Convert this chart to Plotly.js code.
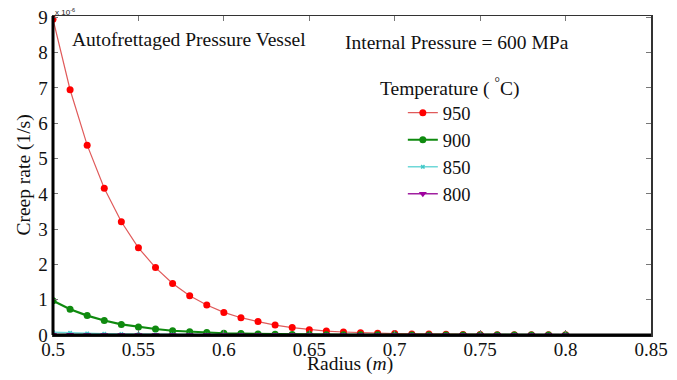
<!DOCTYPE html>
<html>
<head>
<meta charset="utf-8">
<script src="https://cdn.plot.ly/plotly-3.0.1.min.js"></script>
<style>
html,body{margin:0;padding:0;background:#fff;}
</style>
</head>
<body>
<div id="chart" style="width:677px;height:380px"></div>
<script>
const radius = [0.50,0.51,0.52,0.53,0.54,0.55,0.56,0.57,0.58,0.59,0.60,0.61,0.62,0.63,0.64,0.65,0.66,0.67,0.68,0.69,0.70,0.71,0.72,0.73,0.74,0.75,0.76,0.77,0.78,0.79,0.80];
const seriesNames = ["950","900","850","800"];
const creep950 = [8.95,6.95,5.38,4.16,3.21,2.47,1.91,1.46,1.11,0.85,0.64,0.49,0.38,0.28,0.21,0.15,0.11,0.085,0.065,0.05,0.04,0.03,0.025,0.02,0.015,0.012,0.01,0.008,0.006,0.005,0.004];
const creep900 = [0.97,0.73,0.55,0.41,0.30,0.23,0.17,0.12,0.09,0.07,0.05,0.04,0.03,0.02,0.015,0.011,0.008,0.006,0.005,0.004,0.003,0.002,0.002,0.001,0.001,0.001,0.001,0.0005,0.0005,0.0004,0.0003];
const creep850 = [0.08,0.06,0.045,0.034,0.025,0.019,0.014,0.011,0.008,0.006,0.005,0.004,0.003,0.002,0.0015,0.001,0.001,0.0008,0.0006,0.0005,0.0004,0.0003,0.0002,0.0002,0.0001,0.0001,0.0001,0.0001,0.0001,0.0001,0.0001];
const creep800 = [0.006,0.0045,0.0034,0.0025,0.0019,0.0014,0.001,0.0008,0.0006,0.0005,0.0004,0.0003,0.0002,0.0002,0.0001,0.0001,0.0001,0.0001,0.0001,0.0001,0.0001,0.0001,0.0001,0.0001,0.0001,0.0001,0.0001,0.0001,0.0001,0.0001,0.0001];
const xTicks = [0.5,0.55,0.6,0.65,0.7,0.75,0.8,0.85];
const xTickText = ["0.5","0.55","0.6","0.65","0.7","0.75","0.8","0.85"];
const yTicks = [0,1,2,3,4,5,6,7,8,9];

function tf(size) { return {family: "Times New Roman", size: size, color: "#111"}; }

const traces = [
  {x: radius, y: creep950, name: seriesNames[0], mode: "lines+markers",
   line: {color: "#e05a5a", width: 1.2}, marker: {color: "#ff0000", size: 7, symbol: "circle"}},
  {x: radius, y: creep900, name: seriesNames[1], mode: "lines+markers",
   line: {color: "#0f8a0f", width: 2.2}, marker: {color: "#0f8a0f", size: 7, symbol: "circle"}},
  {x: radius, y: creep850, name: seriesNames[2], mode: "lines+markers",
   line: {color: "#6fd8d8", width: 1.5}, marker: {color: "#40c8c8", size: 4, symbol: "x"}},
  {x: radius, y: creep800, name: seriesNames[3], mode: "lines+markers",
   line: {color: "#a020a0", width: 1.5}, marker: {color: "#a000a0", size: 7, symbol: "triangle-down"}}
];

const layout = {
  width: 677, height: 380,
  margin: {l: 53, r: 26, t: 16, b: 45},
  paper_bgcolor: "#fff", plot_bgcolor: "#fff",
  font: tf(19),
  showlegend: true,
  legend: {x: 0.585, y: 0.755, xanchor: "left", yanchor: "top", bgcolor: "rgba(0,0,0,0)",
           font: tf(18.5), tracegroupgap: 0},
  xaxis: {range: [0.5, 0.85], tickvals: xTicks, ticktext: xTickText, ticks: "inside", ticklen: 5,
          tickcolor: "#777", showline: true, linecolor: "#333", linewidth: 1.5, mirror: "ticks",
          showgrid: false, zeroline: false, tickfont: tf(19), ticklabelstandoff: -3},
  yaxis: {range: [0, 9.04], tickvals: yTicks, ticks: "inside", ticklen: 5,
          tickcolor: "#777", showline: true, linecolor: "#333", linewidth: 1.5, mirror: "ticks",
          showgrid: false, zeroline: false, tickfont: tf(19)},
  shapes: [
    {type: "line", xref: "paper", yref: "paper", x0: 0, x1: 0, y0: 0, y1: 1, line: {color: "#000", width: 3}},
    {type: "line", xref: "paper", yref: "paper", x0: 0, x1: 1, y0: 0, y1: 0, line: {color: "#000", width: 3}}
  ],
  annotations: [
    {text: "Autofrettaged Pressure Vessel", xref: "paper", yref: "paper", x: 0.029, y: 0.925,
     xanchor: "left", yanchor: "middle", showarrow: false, font: tf(19.5)},
    {text: "Internal Pressure = 600 MPa", xref: "paper", yref: "paper", x: 0.485, y: 0.918,
     xanchor: "left", yanchor: "middle", showarrow: false, font: tf(19.5)},
    {text: "Temperature ( <sup>°</sup>C)", xref: "paper", yref: "paper", x: 0.544, y: 0.777,
     xanchor: "left", yanchor: "middle", showarrow: false, font: tf(19.5)},
    {text: "Radius (<i>m</i>)", xref: "paper", yref: "paper", x: 0.497, y: -0.09,
     xanchor: "center", yanchor: "middle", showarrow: false, font: tf(19.5)},
    {text: "Creep rate (1/s)", xref: "paper", yref: "paper", x: -0.05, y: 0.5, textangle: -90,
     xanchor: "center", yanchor: "middle", showarrow: false, font: tf(19.5)},
    {text: "x 10<sup>-6</sup>", xref: "paper", yref: "paper", x: 0.0, y: 1.0,
     xanchor: "left", yanchor: "bottom", showarrow: false, yshift: -3, font: {family: "Liberation Sans", size: 8, color: "#222"}}
  ]
};

Plotly.newPlot("chart", traces, layout, {displayModeBar: false, staticPlot: true});
</script>
</body>
</html>
